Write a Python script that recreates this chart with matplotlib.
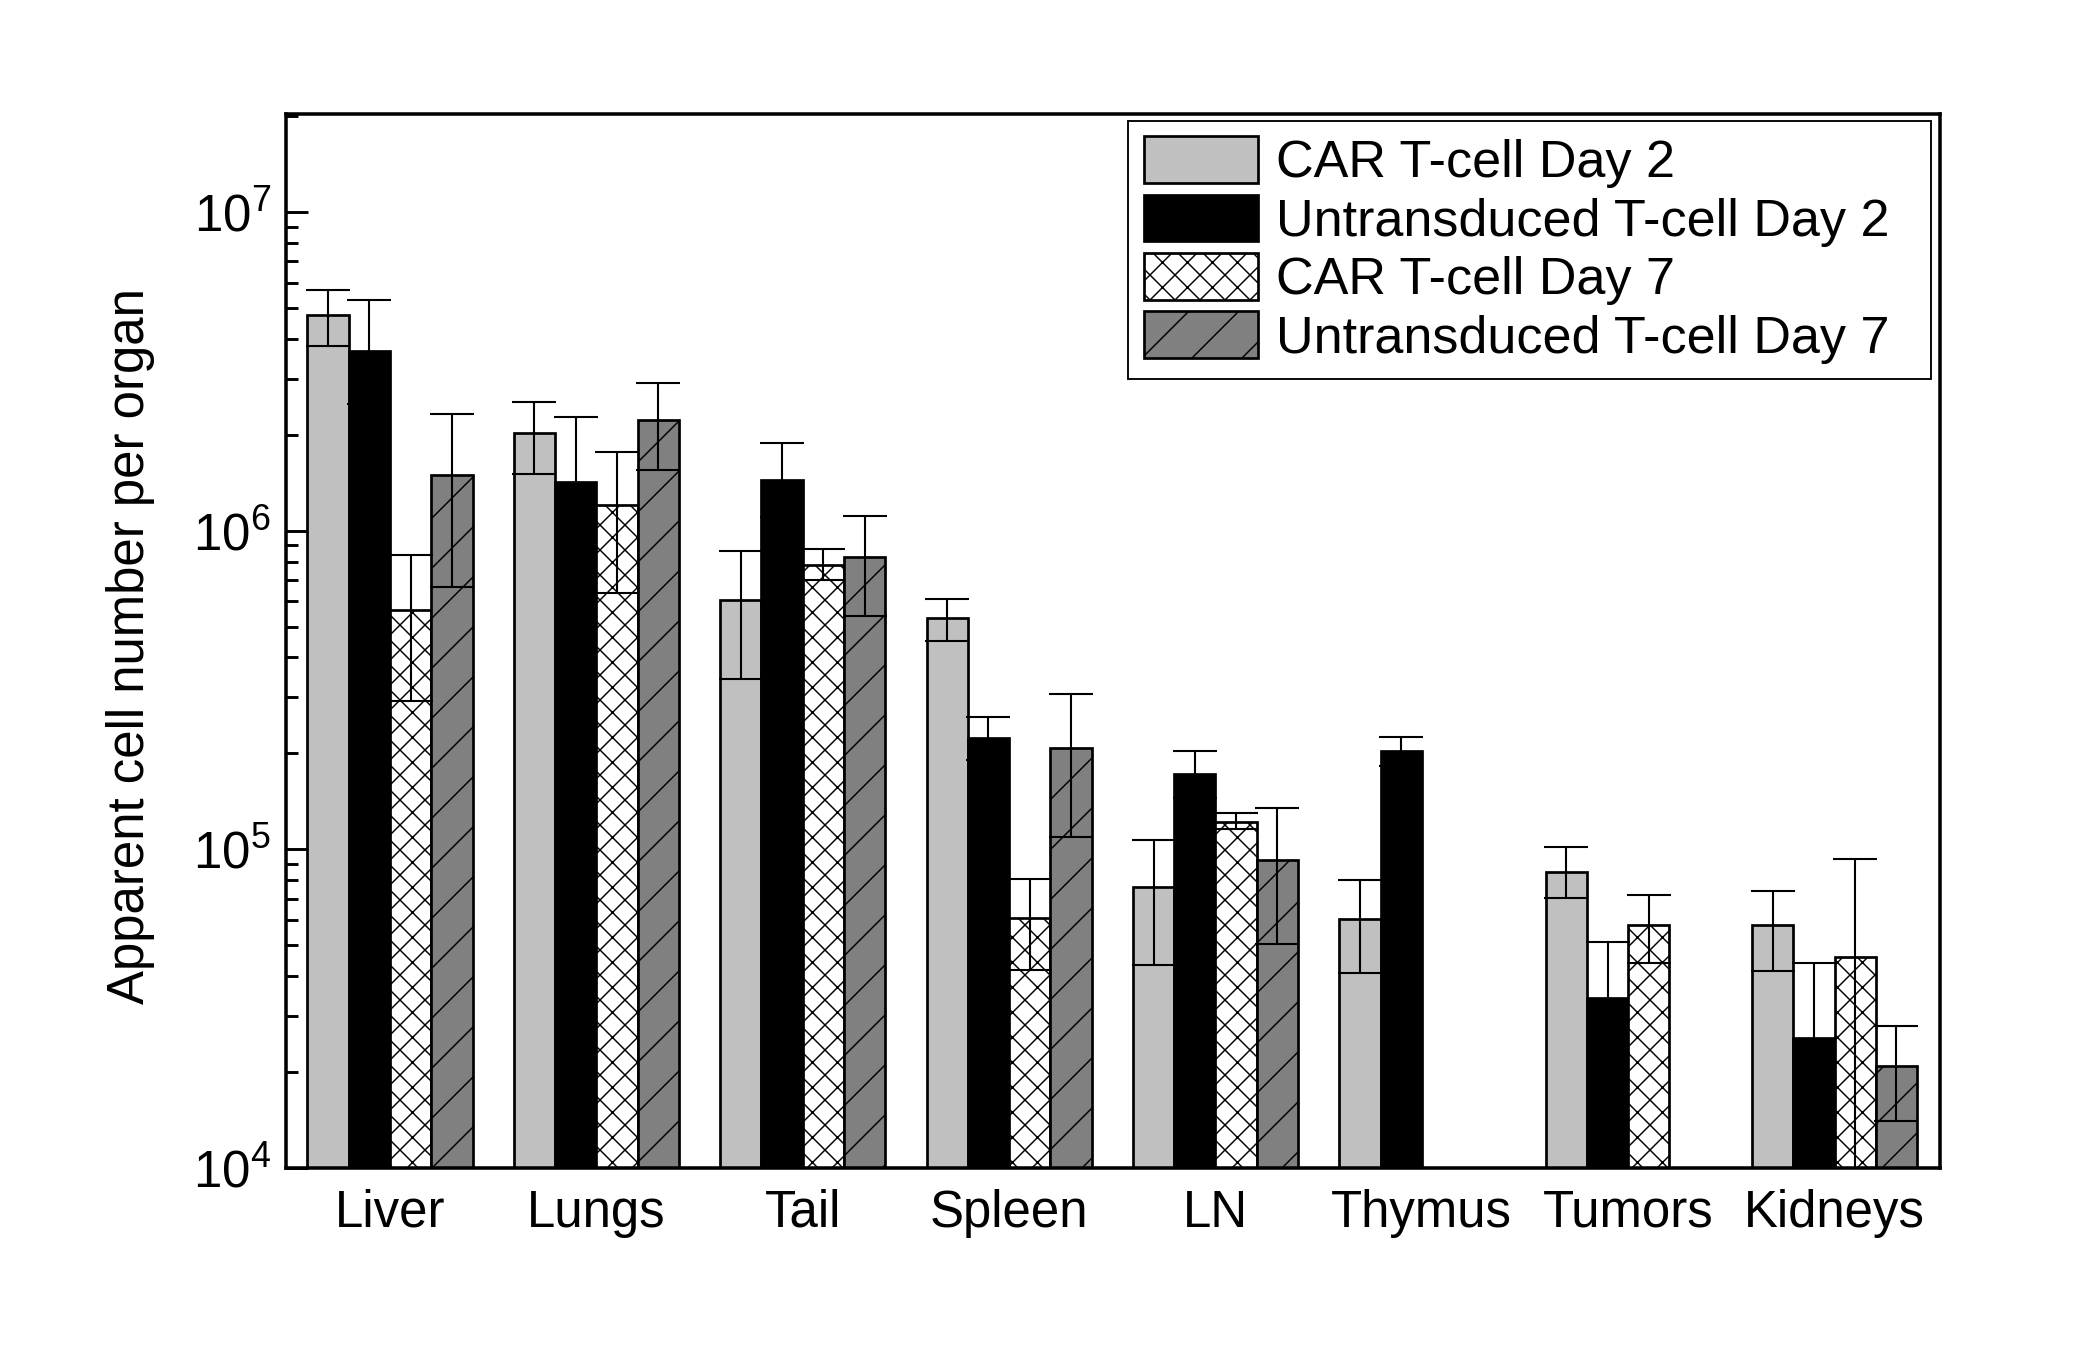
import numpy as np
import matplotlib
matplotlib.use("Agg")
import matplotlib.pyplot as plt

plt.rcParams['font.family'] = ['Liberation Sans', 'DejaVu Sans']
plt.rcParams['mathtext.fontset'] = 'custom'
plt.rcParams['mathtext.rm'] = 'Liberation Sans'
plt.rcParams['mathtext.it'] = 'Liberation Sans'
plt.rcParams['mathtext.default'] = 'regular'
plt.rcParams['hatch.linewidth'] = 0.7

organs = ["Liver", "Lungs", "Tail", "Spleen", "LN", "Thymus", "Tumors", "Kidneys"]
series = ["CAR T-cell Day 2", "Untransduced T-cell Day 2", "CAR T-cell Day 7", "Untransduced T-cell Day 7"]

car_d2 = [4.75e6, 2.03e6, 6.05e5, 5.33e5, 7.6e4, 6.05e4, 8.48e4, 5.77e4]
car_d2_hi = [5.7e6, 2.53e6, 8.65e5, 6.1e5, 1.07e5, 8.0e4, 1.02e5, 7.41e4]
car_d2_lo = [3.8e6, 1.51e6, 3.42e5, 4.52e5, 4.35e4, 4.1e4, 7.06e4, 4.15e4]

un_d2 = [3.66e6, 1.42e6, 1.44e6, 2.23e5, 1.72e5, 2.03e5, 3.42e4, 2.56e4]
un_d2_hi = [5.28e6, 2.28e6, 1.89e6, 2.6e5, 2.03e5, 2.25e5, 5.13e4, 4.4e4]
un_d2_lo = [2.5e6, 8.8e5, 1.1e6, 1.9e5, 1.45e5, 1.83e5, 2.3e4, 1.5e4]

car_d7 = [5.65e5, 1.2e6, 7.78e5, 6.1e4, 1.22e5, np.nan, 5.77e4, 4.61e4]
car_d7_hi = [8.4e5, 1.77e6, 8.74e5, 8.09e4, 1.3e5, np.nan, 7.2e4, 9.35e4]
car_d7_lo = [2.93e5, 6.36e5, 7.0e5, 4.19e4, 1.156e5, np.nan, 4.4e4, 1.0e3]

un_d7 = [1.5e6, 2.23e6, 8.24e5, 2.08e5, 9.25e4, np.nan, np.nan, 2.09e4]
un_d7_hi = [2.32e6, 2.9e6, 1.11e6, 3.07e5, 1.35e5, np.nan, np.nan, 2.79e4]
un_d7_lo = [6.66e5, 1.55e6, 5.38e5, 1.09e5, 5.03e4, np.nan, np.nan, 1.4e4]

values = [car_d2, un_d2, car_d7, un_d7]
his = [car_d2_hi, un_d2_hi, car_d7_hi, un_d7_hi]
los = [car_d2_lo, un_d2_lo, car_d7_lo, un_d7_lo]
colors = ["#c0c0c0", "#000000", "#ffffff", "#808080"]
hatches = [None, None, "xx", "/"]

fig = plt.figure(figsize=(14, 9), dpi=150)
ax = fig.add_axes([0.136, 0.1348, 0.788, 0.7808])

x = np.arange(len(organs))
w = 0.2
offsets = [-1.5 * w, -0.5 * w, 0.5 * w, 1.5 * w]
for i in range(4):
    v = np.array(values[i], dtype=float)
    hi = np.array(his[i], dtype=float)
    lo = np.array(los[i], dtype=float)
    pos = x + offsets[i]
    mask = ~np.isnan(v)
    ax.bar(pos[mask], v[mask], width=w, color=colors[i], edgecolor="black",
           linewidth=1.3, hatch=hatches[i], label=series[i], zorder=2)
    yerr = np.vstack([v[mask] - lo[mask], hi[mask] - v[mask]])
    ax.errorbar(pos[mask], v[mask], yerr=yerr, fmt="none", ecolor="black",
                elinewidth=1.0, capsize=10.5, capthick=1.0, zorder=3)

ax.set_yscale("log")
ax.set_ylim(1e4, 2.03e7)
ax.set_xlim(-0.506, 7.513)
ax.set_xticks(x)
ax.set_xticklabels(organs)
ax.tick_params(axis="x", length=0, pad=10, labelsize=24.5)
ax.tick_params(axis="y", which="major", direction="in", length=10.5, width=1.4,
               pad=7, labelsize=24.5, right=False)
ax.tick_params(axis="y", which="minor", direction="in", length=5.8, width=1.4, right=False)
for s in ax.spines.values():
    s.set_linewidth(1.7)

ax.set_ylabel("Apparent cell number per organ", fontsize=24.5)
ax.yaxis.set_label_coords(-0.094, 0.495)
ax.yaxis.label.set_va("center")

leg = ax.legend(loc="upper right", bbox_to_anchor=(0.509, 0.5, 0.4853, 0.4936),
                mode="expand", borderaxespad=0,
                fontsize=25, frameon=True, fancybox=False, shadow=False,
                edgecolor="black", framealpha=1, handlelength=2.2, handleheight=1.0,
                handletextpad=0.35, labelspacing=0.12, borderpad=0.3)
leg.get_frame().set_linewidth(0.9)

fig.savefig("out.png", dpi=150, facecolor="white")
